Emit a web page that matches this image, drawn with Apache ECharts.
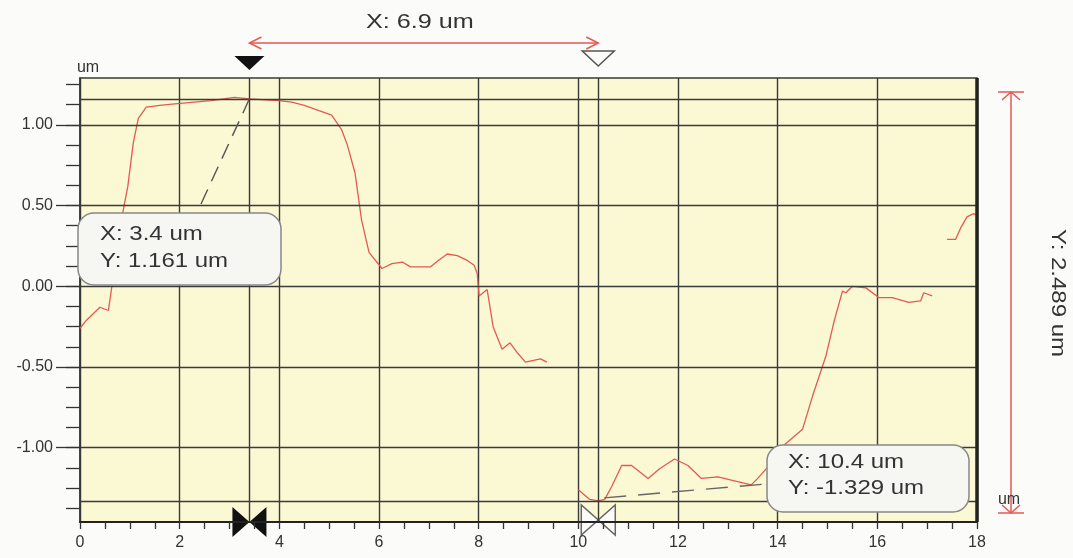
<!DOCTYPE html>
<html>
<head>
<meta charset="utf-8">
<title>Profile</title>
<script src="https://cdn.jsdelivr.net/npm/echarts@6.0.0/dist/echarts.min.js"></script>
<style>
  html, body { margin: 0; padding: 0; background: #fbfbfa; }
  #chart { width: 1073px; height: 558px; }
</style>
</head>
<body>
<div id="chart"></div>
<script>
// profile trace (um), the scan has two gaps so it is kept in three pieces
const seg1X = [0, 0.13, 0.4, 0.57, 0.64, 0.83, 0.96, 1.07, 1.17, 1.33, 1.6, 1.9, 2.63, 3.1, 3.4, 3.98, 4.25, 4.5, 5.05, 5.25, 5.36, 5.52, 5.65, 5.8, 6.06, 6.26, 6.47, 6.63, 7.03, 7.19, 7.37, 7.57, 7.77, 7.91, 7.97, 8.01, 8.17, 8.29, 8.47, 8.63, 8.77, 8.94, 9.24, 9.37];
const seg1Y = [-0.26, -0.21, -0.13, -0.15, 0.0, 0.41, 0.62, 0.89, 1.04, 1.11, 1.12, 1.13, 1.15, 1.17, 1.161, 1.15, 1.14, 1.12, 1.06, 0.97, 0.88, 0.70, 0.41, 0.21, 0.11, 0.14, 0.15, 0.12, 0.12, 0.16, 0.20, 0.19, 0.16, 0.13, 0.08, -0.06, -0.02, -0.25, -0.39, -0.35, -0.41, -0.47, -0.45, -0.47];
const seg2X = [10.0, 10.23, 10.4, 10.53, 10.67, 10.87, 11.07, 11.4, 11.63, 11.93, 12.2, 12.47, 12.8, 13.07, 13.47, 13.6, 13.8, 14.03, 14.5, 14.7, 14.97, 15.13, 15.3, 15.37, 15.5, 15.77, 16.03, 16.3, 16.63, 16.87, 16.93, 17.1];
const seg2Y = [-1.26, -1.32, -1.329, -1.32, -1.24, -1.11, -1.11, -1.19, -1.13, -1.07, -1.11, -1.19, -1.18, -1.20, -1.23, -1.19, -1.12, -1.01, -0.885, -0.68, -0.43, -0.22, -0.03, -0.04, 0.0, -0.01, -0.07, -0.07, -0.10, -0.09, -0.04, -0.06];
const seg3X = [17.4, 17.57, 17.67, 17.8, 17.93, 18.0];
const seg3Y = [0.29, 0.29, 0.36, 0.43, 0.45, 0.44];

// cursors and readouts
const cursorX = [3.4, 10.4];
const cursorY = [1.161, -1.329];
const cursorLabels = [['X: 3.4 um', 'Y: 1.161 um'], ['X: 10.4 um', 'Y: -1.329 um']];
const spanLabels = ['X: 6.9 um', 'Y: 2.489 um'];

// axes
const xMin = 0, xMax = 18, xStep = 2;
const yMin = -1.46, yMax = 1.29;
const yLabelValues = [-1, -0.5, 0, 0.5, 1];
const yMinorValues = [-1.375, -1.25, -1.125, -1, -0.875, -0.75, -0.625, -0.5, -0.375, -0.25, -0.125, 0, 0.125, 0.25, 0.375, 0.5, 0.625, 0.75, 0.875, 1, 1.125, 1.25];

const FONT = '"Liberation Sans", Arial, sans-serif';
const RED = '#e35a52';
const GRIDC = '#3a3a3a';

const chart = echarts.init(document.getElementById('chart'));

const pairs = (xs, ys) => xs.map((x, i) => [x, ys[i]]);
const traceStyle = { color: RED, width: 1.3 };

const option = {
  animation: false,
  backgroundColor: '#fbfbfa',
  grid: {
    left: 80, right: 96, top: 78, bottom: 36,
    show: true,
    backgroundColor: '#fbf8d4',
    borderColor: GRIDC,
    borderWidth: 1.5,
    outerBoundsMode: 'none'
  },
  xAxis: {
    type: 'value',
    min: xMin, max: xMax, interval: xStep,
    axisLine: { onZero: false, lineStyle: { color: '#222', width: 2 } },
    axisTick: { length: 7, lineStyle: { color: '#333', width: 1.3 } },
    minorTick: { show: true, splitNumber: 4, length: 7, lineStyle: { color: '#333', width: 1.3 } },
    axisLabel: { color: '#333', fontSize: 16, fontFamily: FONT, margin: 13 },
    splitLine: { show: true, lineStyle: { color: GRIDC, width: 1.4 } }
  },
  yAxis: [
    {
      type: 'value',
      min: yMin, max: yMax,
      position: 'left',
      axisLine: { show: true, onZero: false, lineStyle: { color: GRIDC, width: 1.5 } },
      axisTick: { show: true, customValues: yLabelValues, length: 24, lineStyle: { color: '#333', width: 1.3 } },
      axisLabel: {
        customValues: yLabelValues,
        color: '#333', fontSize: 16, fontFamily: FONT, margin: 27,
        formatter: v => v.toFixed(2)
      },
      splitLine: { show: false }
    },
    {
      type: 'value',
      min: yMin, max: yMax,
      position: 'left',
      axisLine: { show: false, onZero: false },
      axisTick: { show: true, customValues: yMinorValues, length: 14, lineStyle: { color: '#333', width: 1.3 } },
      axisLabel: { show: false },
      splitLine: { show: false }
    }
  ],
  series: [
    {
      // grid lines and cursor lines
      type: 'line',
      data: [],
      z: 1,
      silent: true,
      markLine: {
        silent: true,
        symbol: ['none', 'none'],
        label: { show: false },
        lineStyle: { type: 'solid', color: GRIDC, width: 1.4 },
        data: yLabelValues.map(v => ({ yAxis: v }))
          .concat(cursorY.map(v => ({ yAxis: v })))
          .concat(cursorX.map(v => ({ xAxis: v })))
          .concat([{ xAxis: xMax, lineStyle: { width: 3.5, color: '#222' } }])
      }
    },
    { type: 'line', data: pairs(seg1X, seg1Y), showSymbol: false, lineStyle: traceStyle, z: 3 },
    { type: 'line', data: pairs(seg2X, seg2Y), showSymbol: false, lineStyle: traceStyle, z: 3 },
    { type: 'line', data: pairs(seg3X, seg3Y), showSymbol: false, lineStyle: traceStyle, z: 3 }
  ]
};
chart.setOption(option);

// annotations: cursor flags, readout boxes, span arrows
const toPx = (x, y) => chart.convertToPixel({ gridIndex: 0 }, [x, y]);
const c0 = toPx(cursorX[0], cursorY[0]);
const c1 = toPx(cursorX[1], cursorY[1]);
const gridBottom = toPx(xMin, yMin)[1];
const textStyle = (text, size, align) => ({
  text: text, fill: '#333', font: size + 'px ' + FONT,
  textAlign: align, textVerticalAlign: 'middle'
});

const arrowY = 43;
const rightX = 1011, rightTop = 92, rightBottom = 513;

const graphics = [
  // top span arrow
  { type: 'line', shape: { x1: c0[0], y1: arrowY, x2: c1[0], y2: arrowY }, style: { stroke: RED, lineWidth: 1.5 } },
  { type: 'polyline', shape: { points: [[c0[0] + 12, arrowY - 6], [c0[0], arrowY], [c0[0] + 12, arrowY + 6]] }, style: { stroke: RED, lineWidth: 1.5, fill: null } },
  { type: 'polyline', shape: { points: [[c1[0] - 12, arrowY - 6], [c1[0], arrowY], [c1[0] - 12, arrowY + 6]] }, style: { stroke: RED, lineWidth: 1.5, fill: null } },
  { type: 'text', x: (c0[0] + c1[0]) / 2 - 4, y: 22, scaleX: 1.2, style: textStyle(spanLabels[0], 21, 'center') },

  // top flags
  { type: 'polygon', shape: { points: [[c0[0] - 15, 56], [c0[0] + 15, 56], [c0[0], 70]] }, style: { fill: '#111' } },
  { type: 'polygon', shape: { points: [[c1[0] - 16, 51], [c1[0] + 16, 51], [c1[0], 66]] }, style: { fill: '#fbfbfa', stroke: '#555', lineWidth: 1.5 } },

  // bottom bowties
  { type: 'polygon', shape: { points: [[c0[0] - 17, gridBottom - 15], [c0[0] - 17, gridBottom + 15], [c0[0], gridBottom]] }, style: { fill: '#111' } },
  { type: 'polygon', shape: { points: [[c0[0] + 17, gridBottom - 15], [c0[0] + 17, gridBottom + 15], [c0[0], gridBottom]] }, style: { fill: '#111' } },
  { type: 'polygon', shape: { points: [[c1[0] - 17, gridBottom - 17], [c1[0] - 17, gridBottom + 13], [c1[0], gridBottom - 2]] }, style: { fill: '#fbfbfa', stroke: '#666', lineWidth: 1.5 } },
  { type: 'polygon', shape: { points: [[c1[0] + 17, gridBottom - 17], [c1[0] + 17, gridBottom + 13], [c1[0], gridBottom - 2]] }, style: { fill: '#fbfbfa', stroke: '#666', lineWidth: 1.5 } },

  // leader lines
  { type: 'line', shape: { x1: 201, y1: 204, x2: c0[0], y2: c0[1] }, style: { stroke: '#555', lineWidth: 1.4, lineDash: [16, 9] }, z: 10 },
  { type: 'line', shape: { x1: c1[0] + 6, y1: c1[1] - 3, x2: 766, y2: 484 }, style: { stroke: '#666', lineWidth: 1.4, lineDash: [22, 12] }, z: 10 },

  // readout boxes
  { type: 'rect', shape: { x: 78, y: 213, width: 203, height: 72, r: 16 }, style: { fill: '#f6f6f3', stroke: '#888', lineWidth: 1.5 }, z: 11 },
  { type: 'text', x: 100, y: 234, scaleX: 1.2, style: textStyle(cursorLabels[0][0], 20, 'left'), z: 12 },
  { type: 'text', x: 100, y: 261, scaleX: 1.2, style: textStyle(cursorLabels[0][1], 20, 'left'), z: 12 },
  { type: 'rect', shape: { x: 767, y: 445, width: 202, height: 67, r: 16 }, style: { fill: '#f6f6f3', stroke: '#888', lineWidth: 1.5 }, z: 11 },
  { type: 'text', x: 788, y: 462, scaleX: 1.2, style: textStyle(cursorLabels[1][0], 20, 'left'), z: 12 },
  { type: 'text', x: 788, y: 488, scaleX: 1.2, style: textStyle(cursorLabels[1][1], 20, 'left'), z: 12 },

  // right span arrow
  { type: 'line', shape: { x1: rightX, y1: rightTop, x2: rightX, y2: rightBottom }, style: { stroke: RED, lineWidth: 1.5 } },
  { type: 'line', shape: { x1: rightX - 13, y1: rightTop, x2: rightX + 13, y2: rightTop }, style: { stroke: RED, lineWidth: 1.5 } },
  { type: 'polyline', shape: { points: [[rightX - 9, rightTop + 8], [rightX, rightTop], [rightX + 9, rightTop + 8]] }, style: { stroke: RED, lineWidth: 1.5, fill: null } },
  { type: 'line', shape: { x1: rightX - 13, y1: rightBottom, x2: rightX + 13, y2: rightBottom }, style: { stroke: RED, lineWidth: 1.5 } },
  { type: 'polyline', shape: { points: [[rightX - 9, rightBottom - 8], [rightX, rightBottom], [rightX + 9, rightBottom - 8]] }, style: { stroke: RED, lineWidth: 1.5, fill: null } },
  { type: 'text', x: 1058, y: 293, rotation: -Math.PI / 2, scaleX: 1.2, style: textStyle(spanLabels[1], 20, 'center') },

  // units
  { type: 'text', x: 88, y: 68, style: textStyle('um', 16, 'center') },
  { type: 'text', x: 1009, y: 500, style: textStyle('um', 16, 'center') }
];

chart.setOption({ graphic: graphics });
</script>
</body>
</html>
